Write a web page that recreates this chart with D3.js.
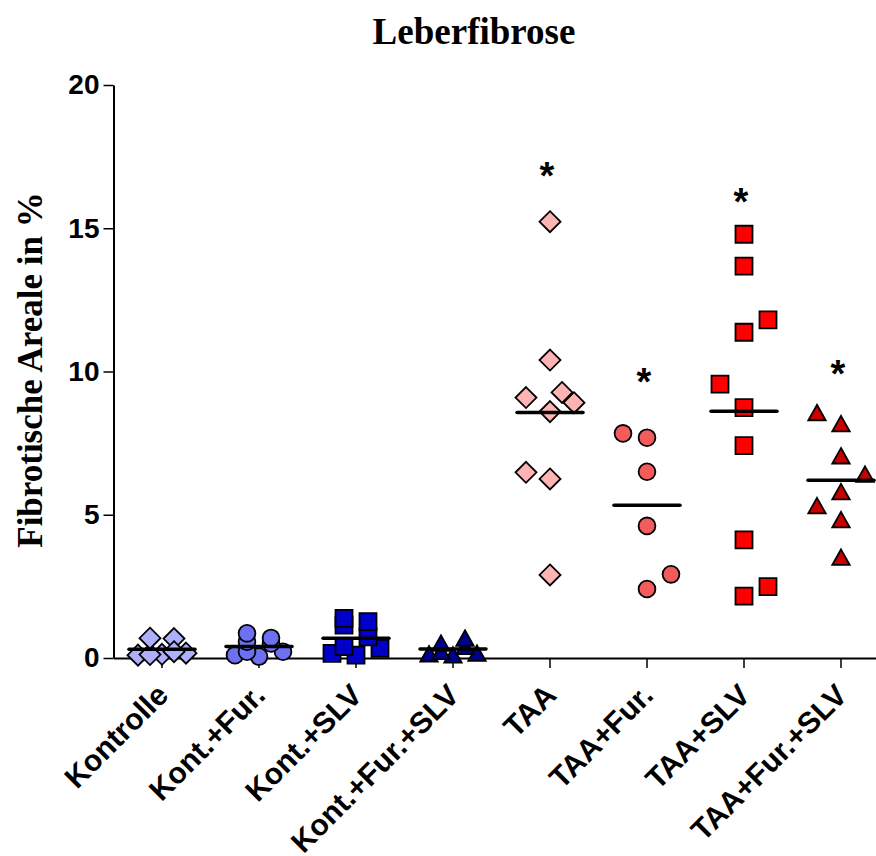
<!DOCTYPE html>
<html>
<head>
<meta charset="utf-8">
<script src="https://cdn.jsdelivr.net/npm/d3@7"></script>
<style>
  body { margin: 0; background: #fff; }
</style>
</head>
<body>
<div class="chart"></div>
<script>
const categories = ["Kontrolle", "Kont.+Fur.", "Kont.+SLV", "Kont.+Fur.+SLV", "TAA", "TAA+Fur.", "TAA+SLV", "TAA+Fur.+SLV"];

// values, in % fibrotic area
const kontrolle = [0.13, 0.10, 0.17, 0.12, 0.68, 0.69, 0.22];
const kontFur = [0.05, 0.10, 0.22, 0.22, 0.51, 0.57, 0.70, 0.86];
const kontSlv = [0.10, 0.16, 0.34, 0.40, 0.74, 1.15, 1.27, 1.38];
const kontFurSlv = [0.10, 0.14, 0.16, 0.22, 0.40, 0.51, 0.69];
const taa = [2.90, 6.25, 6.48, 8.60, 8.91, 9.09, 9.27, 10.40, 15.23];
const taaFur = [2.41, 2.92, 4.61, 6.50, 7.69, 7.84];
const taaSlv = [2.16, 2.49, 4.12, 7.41, 8.74, 9.56, 11.37, 11.80, 13.68, 14.79];
const taaFurSlv = [3.51, 4.82, 5.31, 5.80, 6.41, 7.05, 8.17, 8.56];

const starLevels = [null, null, null, null, 17.1, 9.9, 16.2, 10.2];
const yTicks = [0, 5, 10, 15, 20];

const series = [kontrolle, kontFur, kontSlv, kontFurSlv, taa, taaFur, taaSlv, taaFurSlv];
const shapes = ["diamond", "circle", "square", "triangle", "diamond", "circle", "square", "triangle"];
const colors = ["#AEB0FB", "#6E70F2", "#0000C8", "#00008E", "#FFB4B4", "#F45B5B", "#FF0000", "#C80000"];

const W = 876, H = 856;

const svg = d3.select(".chart").append("svg")
  .attr("width", W)
  .attr("height", H);

const x = d3.scaleBand()
  .domain(categories)
  .range([113.5, 889.5])
  .padding(0);

const y = d3.scaleLinear()
  .domain([0, 20])
  .range([658, 85]);

// title
svg.append("text")
  .attr("x", 474)
  .attr("y", 44)
  .attr("text-anchor", "middle")
  .style("font-family", "'Liberation Serif', 'Times New Roman', serif")
  .style("font-weight", "bold")
  .style("font-size", "37px")
  .text("Leberfibrose");

// y label
svg.append("text")
  .attr("transform", "translate(42,370) rotate(-90)")
  .attr("text-anchor", "middle")
  .style("font-family", "'Liberation Serif', 'Times New Roman', serif")
  .style("font-weight", "bold")
  .style("font-size", "35px")
  .text("Fibrotische Areale in %");

// axes
const yAxis = svg.append("g")
  .attr("transform", "translate(113.5,0)")
  .call(d3.axisLeft(y).tickValues(yTicks).tickSize(10).tickSizeOuter(0).tickPadding(4));

yAxis.select(".domain").attr("stroke-width", 2);
yAxis.selectAll(".tick line").attr("stroke-width", 1.5);
yAxis.selectAll(".tick text")
  .style("font-family", "'Liberation Sans', Arial, sans-serif")
  .style("font-weight", "bold")
  .style("font-size", "28px")
  .attr("fill", "#000");

const xAxis = svg.append("g")
  .attr("transform", "translate(0,658)")
  .call(d3.axisBottom(x).tickSize(10).tickSizeOuter(0).tickFormat(""));

xAxis.select(".domain").attr("stroke-width", 2);
xAxis.selectAll(".tick line").attr("stroke-width", 1.5);

svg.append("g")
  .selectAll("text")
  .data(categories)
  .enter()
  .append("text")
  .attr("transform", d => `translate(${x(d) + x.bandwidth() / 2 + 8},697) rotate(-45)`)
  .attr("text-anchor", "end")
  .style("font-family", "'Liberation Sans', Arial, sans-serif")
  .style("font-weight", "bold")
  .style("font-size", "30px")
  .text(d => d);

// marker paths
function shapePath(kind) {
  if (kind == "diamond") return "M0,-10.5L10.5,0L0,10.5L-10.5,0Z";
  if (kind == "square") return "M-8.5,-8.5H8.5V8.5H-8.5Z";
  if (kind == "triangle") return "M0,-8L8.7,7.5H-8.7Z";
  return d3.symbol().type(d3.symbolCircle).size(Math.PI * 8.4 * 8.4)();
}

// GraphPad-like scatter: points that would collide get pushed sideways
let side = -1;
function dodge(vals) {
  const placed = [];
  return vals.map(v => {
    const py = y(v);
    const hit = dx => placed.some(p => Math.abs(p.dx - dx) < 20 && Math.abs(p.py - py) < 25);
    const minDist = dx => d3.min(placed, p => Math.hypot(p.dx - dx, p.py - py));
    let dx = [0, side * 24, -side * 24].find(c => !hit(c));
    if (dx === undefined) {
      dx = minDist(side * 12) >= minDist(-side * 12) ? side * 12 : -side * 12;
    } else if (dx != 0) {
      side = -Math.sign(dx);
    }
    placed.push({ dx: dx, py: py });
    return { value: v, dx: dx };
  });
}

series.forEach((vals, i) => {
  const cx = x(categories[i]) + x.bandwidth() / 2;
  const pts = dodge(vals);
  const g = svg.append("g");

  g.selectAll("path")
    .data(pts)
    .enter()
    .append("path")
    .attr("d", shapePath(shapes[i]))
    .attr("transform", d => `translate(${cx + d.dx},${y(d.value)})`)
    .attr("fill", colors[i])
    .attr("stroke", "#000")
    .attr("stroke-width", 1.8);

  const m = d3.mean(vals);
  g.append("line")
    .attr("x1", cx - 33)
    .attr("x2", cx + 33)
    .attr("y1", y(m))
    .attr("y2", y(m))
    .attr("stroke", "#000")
    .attr("stroke-width", 3.5)
    .attr("stroke-linecap", "round");

  if (starLevels[i] != null) {
    g.append("text")
      .attr("x", cx - 3)
      .attr("y", y(starLevels[i]) + 21)
      .attr("text-anchor", "middle")
      .style("font-family", "'Liberation Sans', Arial, sans-serif")
      .style("font-weight", "bold")
      .style("font-size", "38px")
      .text("*");
  }
});
</script>
</body>
</html>
